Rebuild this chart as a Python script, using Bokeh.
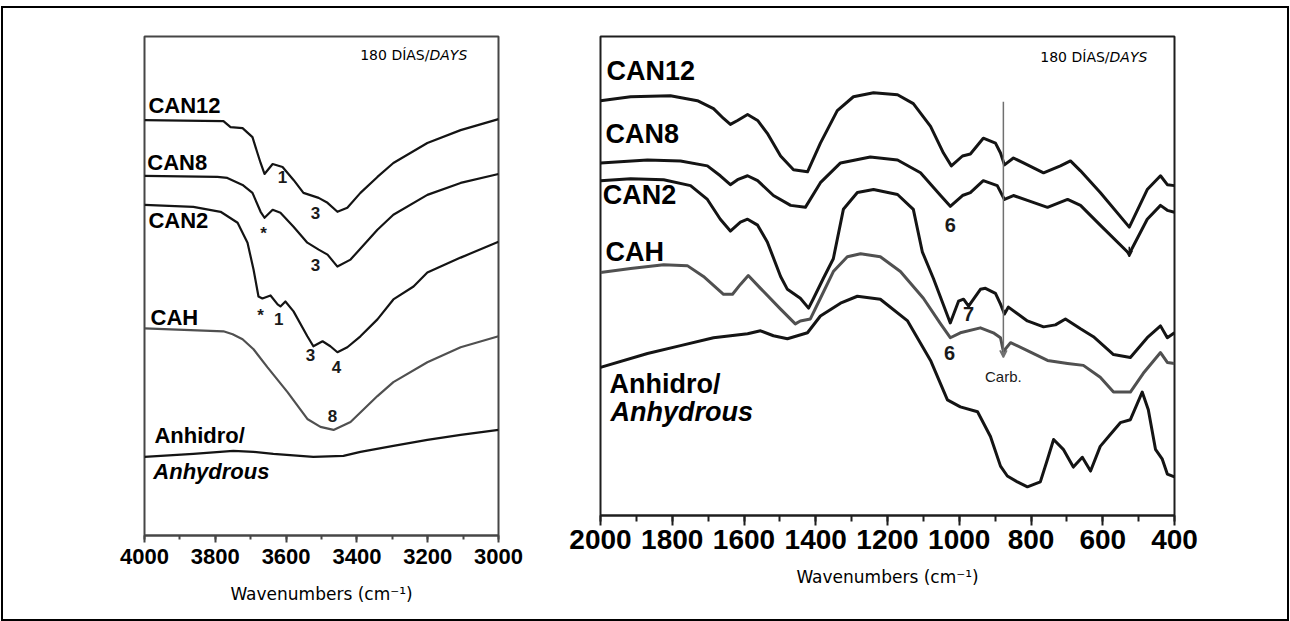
from bokeh.plotting import figure
from bokeh.models import Range1d, SingleIntervalTicker, Title, Arrow, VeeHead
from bokeh.layouts import row
from bokeh.core.properties import value
from bokeh.embed import file_html
from bokeh.resources import INLINE

# ---------------- Left panel data (4000-3000 cm-1), arbitrary offset units ----------------
L_can12_x = [4000, 3777, 3757, 3723, 3695, 3681, 3672, 3661, 3638, 3610, 3579, 3551, 3508, 3483, 3455, 3427, 3390, 3342, 3297, 3201, 3107, 3000]
L_can12_y = [417, 416, 410, 409, 400, 384, 374, 363, 373, 370, 357, 344, 339, 334, 325, 329, 344, 360, 374, 394, 407, 418]

L_can8_x = [4000, 3794, 3766, 3723, 3695, 3672, 3661, 3638, 3616, 3579, 3540, 3508, 3483, 3455, 3418, 3342, 3297, 3201, 3107, 3000]
L_can8_y = [361, 360, 359, 352, 344, 325, 319, 327, 324, 310, 294, 287, 282, 270, 277, 307, 322, 342, 354, 363]

L_can2_x = [4000, 3862, 3785, 3737, 3709, 3692, 3678, 3667, 3644, 3624, 3616, 3602, 3579, 3540, 3523, 3497, 3475, 3455, 3427, 3390, 3342, 3297, 3240, 3201, 3107, 3000]
L_can2_y = [332, 330, 325, 314, 294, 267, 240, 238, 241, 232, 230, 235, 225, 200, 190, 195, 190, 184, 189, 200, 217, 237, 250, 264, 279, 295]

L_cah_x = [4000, 3777, 3751, 3723, 3692, 3653, 3596, 3540, 3503, 3466, 3418, 3342, 3297, 3201, 3107, 3000]
L_cah_y = [208, 205, 202, 197, 187, 169, 144, 117, 109, 106, 114, 140, 154, 174, 189, 200]

L_anh_x = [4000, 3862, 3749, 3692, 3636, 3523, 3438, 3390, 3297, 3201, 3107, 3000]
L_anh_y = [79, 82, 85, 84, 82, 79, 80, 84, 90, 96, 101, 106]

L_names = ["CAN12", "CAN8", "CAN2", "CAH", "Anhidro/"]
L_marks = ["1", "3", "*", "3", "*", "1", "3", "4", "8"]

# ---------------- Right panel data (2000-400 cm-1) ----------------
R_can12_x = [2000, 1916, 1805, 1730, 1685, 1657, 1638, 1618, 1590, 1562, 1535, 1498, 1462, 1423, 1387, 1340, 1295, 1239, 1172, 1128, 1080, 1044, 1022, 991, 969, 933, 899, 885, 874, 849, 821, 765, 718, 690, 662, 607, 526, 476, 439, 420, 400]
R_can12_y = [420, 424, 425, 420, 412, 402, 396, 400, 406, 400, 387, 364, 350, 348, 377, 410, 424, 428, 426, 417, 394, 367, 354, 364, 366, 382, 377, 367, 355, 362, 357, 347, 354, 359, 349, 327, 292, 330, 344, 335, 334]

R_can8_x = [2000, 1869, 1777, 1702, 1666, 1638, 1618, 1590, 1562, 1518, 1470, 1429, 1387, 1331, 1248, 1172, 1108, 1052, 1025, 991, 969, 933, 894, 874, 849, 810, 754, 698, 662, 607, 526, 476, 439, 420, 400]
R_can8_y = [357, 360, 359, 354, 344, 335, 340, 344, 339, 324, 314, 312, 337, 357, 363, 360, 347, 324, 313, 324, 327, 339, 334, 320, 324, 319, 312, 320, 314, 294, 265, 300, 314, 309, 307]

R_can2_x = [2000, 1916, 1824, 1749, 1702, 1666, 1638, 1610, 1590, 1562, 1535, 1498, 1479, 1443, 1420, 1406, 1379, 1351, 1323, 1284, 1239, 1172, 1128, 1103, 1072, 1025, 1002, 988, 974, 941, 927, 899, 885, 874, 863, 810, 765, 732, 704, 662, 626, 570, 523, 476, 439, 420, 400]
R_can2_y = [339, 341, 340, 334, 320, 300, 288, 297, 300, 294, 277, 242, 229, 220, 210, 220, 240, 260, 310, 327, 330, 325, 310, 267, 240, 195, 217, 219, 212, 229, 230, 225, 214, 204, 211, 197, 191, 193, 199, 189, 181, 163, 160, 180, 192, 180, 185]

R_cah_x = [2000, 1916, 1824, 1758, 1713, 1657, 1632, 1610, 1588, 1554, 1498, 1457, 1443, 1415, 1387, 1351, 1312, 1275, 1220, 1164, 1100, 1052, 1025, 997, 941, 905, 885, 877, 857, 810, 754, 698, 654, 607, 570, 523, 487, 439, 420, 400]
R_cah_y = [246, 250, 254, 253, 242, 224, 224, 234, 243, 230, 209, 194, 197, 199, 220, 247, 262, 265, 262, 247, 220, 194, 180, 185, 190, 185, 180, 166, 175, 167, 157, 154, 152, 140, 125, 125, 144, 165, 155, 154]

R_anh_x = [2000, 1869, 1777, 1685, 1590, 1554, 1518, 1479, 1423, 1387, 1331, 1284, 1220, 1144, 1080, 1033, 997, 949, 913, 885, 866, 838, 810, 774, 754, 737, 710, 682, 657, 634, 607, 579, 551, 523, 490, 473, 453, 434, 420, 400]
R_anh_y = [150, 164, 172, 180, 184, 187, 182, 179, 185, 202, 215, 222, 219, 197, 157, 117, 110, 105, 80, 50, 40, 34, 29, 34, 57, 77, 67, 49, 59, 45, 70, 82, 94, 97, 125, 107, 67, 57, 42, 39]

R_names = ["CAN12", "CAN8", "CAN2", "CAH", "Anhidro/"]
R_marks = ["6", "7", "6"]

italic_name = "Anhydrous"
days_a = "180 DÍAS/"
days_b = "DAYS"
xlabel = "Wavenumbers (cm⁻¹)"
carb_label = "Carb."

BLACK = "#141414"
GRAY = "#505050"
SANS = value("Liberation Sans")
VSANS = value("DejaVu Sans")


def base_fig(w, h, xr, yr, mbl, mbr, mbt, mbb, tick_size, maj_out, min_out, standoff, t_off, t_standoff, frame_color):
    p = figure(width=w, height=h, x_range=Range1d(*xr), y_range=Range1d(*yr),
               output_backend="svg", toolbar_location=None,
               min_border_left=mbl, min_border_right=mbr, min_border_top=mbt, min_border_bottom=mbb)
    p.grid.visible = False
    p.yaxis.visible = False
    p.outline_line_color = frame_color
    p.outline_line_width = 2
    p.background_fill_color = "white"
    p.border_fill_color = "white"
    ax = p.xaxis[0]
    ax.ticker = SingleIntervalTicker(interval=200, num_minor_ticks=2)
    ax.major_label_text_font = "Liberation Sans"
    ax.major_label_text_font_style = "bold"
    ax.major_label_text_font_size = tick_size
    ax.major_label_text_color = "black"
    ax.major_label_standoff = standoff
    ax.axis_line_color = frame_color
    ax.axis_line_width = 2
    ax.major_tick_line_color = frame_color
    ax.minor_tick_line_color = frame_color
    ax.major_tick_line_width = 2
    ax.minor_tick_line_width = 2
    ax.major_tick_in = 0
    ax.major_tick_out = maj_out
    ax.minor_tick_in = 0
    ax.minor_tick_out = min_out
    p.add_layout(Title(text=xlabel, align="center", offset=t_off, standoff=t_standoff,
                       text_font="DejaVu Sans", text_font_size="17px", text_font_style="normal",
                       text_color="black"), "below")
    return p


# ---------------- Left figure ----------------
p1 = base_fig(557, 611, (4000, 3000), (0, 501), 141, 62, 28, 82, "22px", 7, 4, 6, 44, 31, "#464646")
lw1 = 2.2
for xs, ys, c in [(L_can12_x, L_can12_y, BLACK), (L_can8_x, L_can8_y, BLACK), (L_can2_x, L_can2_y, BLACK),
                  (L_cah_x, L_cah_y, GRAY), (L_anh_x, L_anh_y, BLACK)]:
    p1.line(xs, ys, line_color=c, line_width=lw1, line_join="round")

p1.text(x=[3989, 3992, 3989, 3983, 3972], y=[432, 374, 316, 219, 100], text=L_names,
        text_font=SANS, text_font_style="bold", text_font_size="22px",
        text_baseline="middle", text_align="left", text_color="black")
p1.text(x=[3975], y=[64], text=[italic_name], text_font=SANS, text_font_style="bold italic",
        text_font_size="22px", text_baseline="middle", text_align="left", text_color="black")
p1.text(x=[3610, 3517, 3664, 3517, 3672, 3621, 3531, 3458, 3469],
        y=[360, 324, 303, 272, 221, 217, 181, 169, 120], text=L_marks,
        text_font=SANS, text_font_style="bold", text_font_size="17px",
        text_baseline="middle", text_align="center", text_color="#1a1a1a")
p1.text(x=[3195], y=[482], text=[days_a], text_font=VSANS, text_font_size="14px",
        text_baseline="middle", text_align="right", text_color="black")
p1.text(x=[3195], y=[482], text=[days_b], text_font=VSANS, text_font_style="italic", text_font_size="14px",
        text_baseline="middle", text_align="left", text_color="black")

# ---------------- Right figure ----------------
p2 = base_fig(727, 591, (2000, 400), (0, 485), 40, 113, 24, 82, "28px", 10, 6, 4, -5, 26, "#1e1e1e")
lw2 = 3
for xs, ys, c in [(R_can12_x, R_can12_y, BLACK), (R_can8_x, R_can8_y, BLACK), (R_can2_x, R_can2_y, BLACK),
                  (R_cah_x, R_cah_y, GRAY), (R_anh_x, R_anh_y, BLACK)]:
    p2.line(xs, ys, line_color=c, line_width=lw2, line_join="round")

p2.add_layout(Arrow(x_start=877, y_start=419, x_end=877, y_end=160, line_color="#707070", line_width=1.5,
                    end=VeeHead(size=7, line_color="#707070", line_width=1.5, fill_color="#707070")))
p2.add_layout(Arrow(x_start=526, y_start=272, x_end=526, y_end=262, line_color=BLACK, line_width=1.5,
                    end=VeeHead(size=6, line_color=BLACK, line_width=1.5, fill_color=BLACK)))

p2.text(x=[1983, 1986, 1994, 1986, 1975], y=[450, 386, 325, 267, 133], text=R_names,
        text_font=SANS, text_font_style="bold", text_font_size="27px",
        text_baseline="middle", text_align="left", text_color="black")
p2.text(x=[1972], y=[105], text=[italic_name], text_font=SANS, text_font_style="bold italic",
        text_font_size="27px", text_baseline="middle", text_align="left", text_color="black")
p2.text(x=[1025, 974, 1027], y=[294, 204, 165], text=R_marks,
        text_font=SANS, text_font_style="bold", text_font_size="20px",
        text_baseline="middle", text_align="center", text_color="#1a1a1a")
p2.text(x=[877], y=[141], text=[carb_label], text_font=SANS, text_font_size="15px",
        text_baseline="middle", text_align="center", text_color="#1a1a1a")
p2.text(x=[581], y=[464], text=[days_a], text_font=VSANS, text_font_size="14px",
        text_baseline="middle", text_align="right", text_color="black")
p2.text(x=[581], y=[464], text=[days_b], text_font=VSANS, text_font_style="italic", text_font_size="14px",
        text_baseline="middle", text_align="left", text_color="black")

layout = row(p1, p2, margin=(6, 0, 0, 1),
             styles={"border": "2px solid black", "background-color": "white"})

open("out.html", "w").write(file_html(layout, INLINE))
